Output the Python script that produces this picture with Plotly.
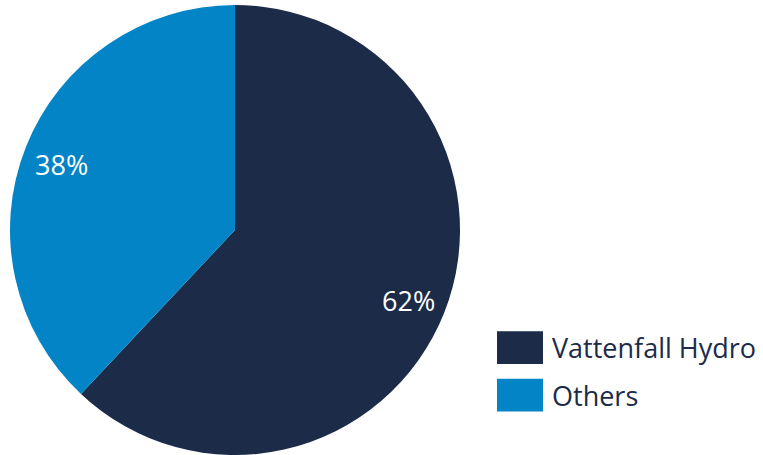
import math
import plotly.graph_objects as go

labels = ["Vattenfall Hydro", "Others"]
values = [62, 38]
colors = ["#1b2b48", "#0284c6"]
text_color = "#1b2b48"

W, H = 763, 455
MT = 5
dom_x = [0.013, 0.603]
fig = go.Figure(go.Pie(
    labels=labels, values=values, sort=False, direction="clockwise", rotation=0,
    marker=dict(colors=colors, line=dict(width=0)),
    textinfo="none",
    domain=dict(x=dom_x, y=[0, 1]),
    showlegend=False, hoverinfo="skip",
))

# percentage labels placed along each slice's mid-angle
cx = (dom_x[0] + dom_x[1]) / 2 * W
cy = MT + (H - MT) / 2
R = (H - MT) / 2
r_lab = 0.83 * R
total = sum(values)
annos = []
cum = 0
for v in values:
    mid = (cum + v / 2) / total * 2 * math.pi
    cum += v
    px = cx + r_lab * math.sin(mid)
    py = cy - r_lab * math.cos(mid)
    annos.append(dict(xref="paper", yref="paper", x=px / W, y=1 - py / H,
                      xanchor="center", yanchor="middle", showarrow=False,
                      text=f"{round(v / total * 100)}%",
                      font=dict(family="Open Sans", size=27, color="white")))

# custom legend with large swatches
sq_x0, sq_w, sq_h = 497, 46, 33
row_y = [330, 378]
shapes = []
for lab, col, y0 in zip(labels, colors, row_y):
    shapes.append(dict(type="rect", xref="paper", yref="paper",
                       x0=sq_x0 / W, x1=(sq_x0 + sq_w) / W,
                       y0=1 - (y0 + sq_h) / H, y1=1 - y0 / H,
                       fillcolor=col, line=dict(width=0)))
    annos.append(dict(xref="paper", yref="paper", x=550 / W, y=1 - (y0 + sq_h / 2) / H,
                      xanchor="left", yanchor="middle", showarrow=False, text=lab,
                      font=dict(family="Open Sans", size=27, color=text_color)))

fig.update_layout(width=W, height=H, margin=dict(l=0, r=0, t=MT, b=0),
                  paper_bgcolor="white", plot_bgcolor="white",
                  shapes=shapes, annotations=annos)
fig.write_html("out.html")
